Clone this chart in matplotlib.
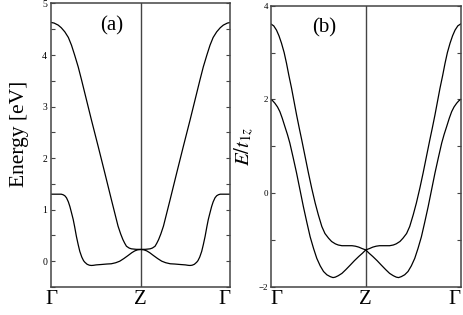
import matplotlib
matplotlib.use('Agg')
import matplotlib.pyplot as plt
from matplotlib.ticker import MultipleLocator

plt.rcParams['font.family'] = ['Liberation Serif', 'DejaVu Serif']
plt.rcParams['mathtext.fontset'] = 'stix'

# panel (a): k from Gamma (0) to Z (1), energies in eV
k_a_upper = [0.0, 0.03, 0.076, 0.11, 0.15, 0.19, 0.225, 0.26, 0.30, 0.337, 0.374, 0.411, 0.448,
             0.523, 0.598, 0.672, 0.746, 0.775, 0.80, 0.82, 0.84, 0.87, 0.895, 0.95, 1.0]
e_a_upper = [4.63, 4.62, 4.58, 4.53, 4.45, 4.34, 4.19, 4.00, 3.77, 3.52, 3.26, 3.00, 2.74,
             2.23, 1.71, 1.19, 0.68, 0.53, 0.42, 0.35, 0.29, 0.255, 0.24, 0.23, 0.23]
k_a_lower = [0.0, 0.08, 0.11, 0.13, 0.15, 0.169, 0.19, 0.207, 0.225, 0.244, 0.26, 0.28, 0.30, 0.318,
             0.34, 0.36, 0.374, 0.40, 0.425, 0.448, 0.47, 0.50, 0.56, 0.62, 0.67, 0.72, 0.765,
             0.81, 0.858, 0.90, 0.933, 0.965, 1.0]
e_a_lower = [1.30, 1.30, 1.30, 1.29, 1.27, 1.23, 1.15, 1.06, 0.94, 0.81, 0.67, 0.48, 0.32, 0.19,
             0.08, 0.01, -0.02, -0.06, -0.078, -0.083, -0.08, -0.072, -0.064, -0.055, -0.05, -0.03, 0.0,
             0.05, 0.11, 0.165, 0.20, 0.22, 0.226]

# panel (b): energies in units of t_1z
k_b_upper = [0.0, 0.03, 0.059, 0.085, 0.112, 0.14, 0.165, 0.19, 0.218, 0.245, 0.271, 0.30, 0.325,
             0.36, 0.396, 0.43, 0.467, 0.50, 0.537, 0.57, 0.608, 0.64, 0.679, 0.71, 0.749, 0.80,
             0.855, 0.89, 0.926, 0.96, 1.0]
e_b_upper = [3.61, 3.57, 3.48, 3.36, 3.20, 3.00, 2.77, 2.51, 2.24, 1.95, 1.67, 1.38, 1.14,
             0.79, 0.43, 0.11, -0.21, -0.46, -0.71, -0.86, -0.96, -1.03, -1.08, -1.105, -1.12, -1.12,
             -1.12, -1.13, -1.15, -1.18, -1.21]
k_b_lower = [0.0, 0.02, 0.042, 0.07, 0.095, 0.12, 0.148, 0.175, 0.2, 0.235, 0.271, 0.307, 0.343,
             0.38, 0.414, 0.45, 0.484, 0.52, 0.555, 0.59, 0.626, 0.655, 0.679, 0.71, 0.749, 0.79,
             0.838, 0.88, 0.926, 0.965, 1.0]
e_b_lower = [2.0, 1.97, 1.92, 1.84, 1.74, 1.60, 1.42, 1.25, 1.07, 0.76, 0.43, 0.07, -0.29,
             -0.63, -0.93, -1.18, -1.39, -1.55, -1.67, -1.74, -1.78, -1.80, -1.79, -1.76, -1.71, -1.63,
             -1.53, -1.44, -1.35, -1.28, -1.21]

kpoint_labels = ['Γ', 'Z', 'Γ']


def mirror(k, e):
    # Gamma -> Z -> Gamma path, second half is the mirror image
    ks = list(k) + [2 - x for x in reversed(k[:-1])]
    es = list(e) + list(reversed(e[:-1]))
    return ks, es


fig = plt.figure(figsize=(4.63, 3.15), dpi=100)
ax1 = fig.add_axes([0.111, 0.089, 0.386, 0.9])
ax2 = fig.add_axes([0.585, 0.089, 0.41, 0.893])

spine_col = '#444444'

for ax in (ax1, ax2):
    ax.set_xlim(0, 2)
    ax.axvline(1, color=spine_col, lw=1.0)
    ax.set_xticks([0, 1, 2])
    ax.set_xticklabels(kpoint_labels, fontsize=15)
    ax.tick_params(axis='x', length=0, pad=2)
    ax.tick_params(axis='y', which='both', direction='in', right=True, length=3,
                   width=0.8, color=spine_col, labelsize=7, pad=3)
    for s in ax.spines.values():
        s.set_color(spine_col)
        s.set_linewidth(1.1)

# nudge the edge labels inward like the original
labs1 = ax1.get_xticklabels()
labs1[2].set_ha('right')
labs2 = ax2.get_xticklabels()
labs2[0].set_ha('left')
labs2[2].set_ha('right')

# (a)
for k, e in ((k_a_upper, e_a_upper), (k_a_lower, e_a_lower)):
    ks, es = mirror(k, e)
    ax1.plot(ks, es, color='black', lw=0.9)
ax1.set_ylim(-0.5, 5)
ax1.yaxis.set_major_locator(MultipleLocator(1))
ax1.yaxis.set_minor_locator(MultipleLocator(0.5))
ax1.set_ylabel('Energy [eV]', fontsize=15.5)
ax1.yaxis.set_label_coords(-0.125, 0.54)
ax1.text(0.27, 0.955, '(a)', transform=ax1.transAxes, fontsize=15, va='top', ha='left')

# (b)
for k, e in ((k_b_upper, e_b_upper), (k_b_lower, e_b_lower)):
    ks, es = mirror(k, e)
    ax2.plot(ks, es, color='black', lw=0.9)
ax2.set_ylim(-2, 4)
ax2.yaxis.set_major_locator(MultipleLocator(2))
ax2.yaxis.set_minor_locator(MultipleLocator(1))
ax2.tick_params(axis='y', labelsize=6.5, pad=2)
ax2.set_ylabel(r'$E/t_{1z}$', fontsize=15, labelpad=2)
ax2.text(0.22, 0.955, '(b)', transform=ax2.transAxes, fontsize=15, va='top', ha='left')

fig.savefig('out.png', dpi=100)
